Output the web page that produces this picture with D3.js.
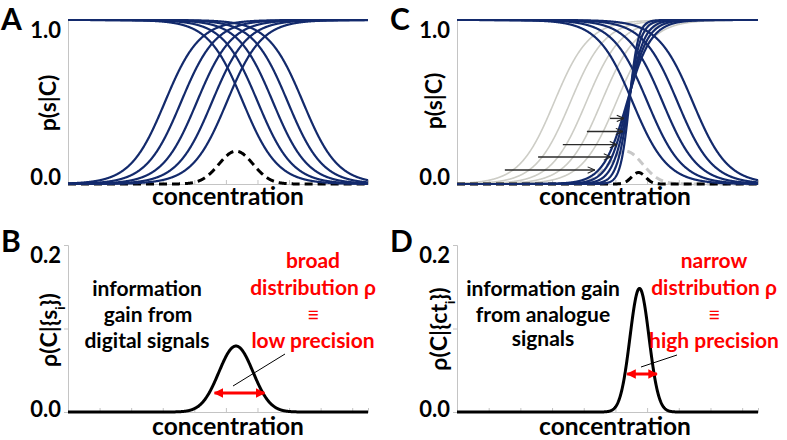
<!DOCTYPE html>
<html><head><meta charset="utf-8">
<script src="https://cdn.jsdelivr.net/npm/d3@7"></script>
<style>
html,body{margin:0;padding:0;background:#fff;}
svg{display:block;font-family:Lato,"Open Sans",sans-serif;}
</style></head>
<body>
<svg id="chart" width="787" height="440"></svg>
<script>
// ---------------- data ----------------
const xDomain = [0, 9.5];              // concentration axis (arbitrary units)
const xTickValues = [1,2,3,4,5,6,7,8,9];
const yTicksTop = [0, 1];
const yTicksBottom = [0, 0.1, 0.2];
const yTickLabelsBottom = [0, 0.2];

// panel A / C : response curves p(s|C)
const risingMid   = [3.07, 3.58, 4.08, 4.56, 5.03];   // digital, rising
const risingWidth = [0.55, 0.55, 0.55, 0.55, 0.55];
const fallingMid   = [5.54, 6.01, 6.49, 6.96, 7.44];
const fallingWidth = [0.55, 0.55, 0.55, 0.55, 0.55];
const steepMid   = [5.37, 5.39, 5.41, 5.42, 5.44];    // analogue, steep rising
const steepWidth = [0.38, 0.31, 0.25, 0.19, 0.14];
// dashed posteriors on p-scale
const dashA  = {mean: 5.32, sd: 0.54, peak: 0.20};
const dashC  = {mean: 5.73, sd: 0.22, peak: 0.07};
// arrows in C (level, start, end in concentration units)
const arrowLevel = [0.085, 0.165, 0.24, 0.32, 0.40];
const arrowStart = [1.51, 2.56, 3.34, 4.10, 4.83];
const arrowEnd   = [4.35, 4.86, 5.05, 5.24, 5.27];
// panel B / D posteriors
const postB = {mean: 5.32, sd: 0.54, peak: 0.079};
const postD = {mean: 5.76, sd: 0.30, peak: 0.148};
const widthArrowB = [4.64, 6.22];   // red double arrow extent
const widthArrowD = [5.37, 6.31];
const widthLevelB = 0.0228, widthLevelD = 0.0455;

// ---------------- helpers ----------------
const logistic = (x, m, s) => 1 / (1 + Math.exp(-(x - m) / s));
const gauss = (x, g) => g.peak * Math.exp(-0.5 * Math.pow((x - g.mean) / g.sd, 2));
const grid = d3.range(xDomain[0], xDomain[1] + 1e-9, 0.01);

const NAVY = "#132a6c", GRAYC = "#cdcdc6", AXIS = "#c4c4c4", RED = "#ff0000";
const svg = d3.select("#chart");
const defs = svg.append("defs");
defs.append("marker").attr("id","redhead").attr("viewBox","0 0 10 10").attr("refX",9).attr("refY",5)
  .attr("markerWidth",3.2).attr("markerHeight",3.2).attr("orient","auto-start-reverse")
  .append("path").attr("d","M0,0 L10,5 L0,10 z").attr("fill",RED);
defs.append("marker").attr("id","openhead").attr("viewBox","0 0 10 10").attr("refX",10).attr("refY",5)
  .attr("markerWidth",8).attr("markerHeight",8).attr("markerUnits","userSpaceOnUse").attr("orient","auto")
  .append("path").attr("d","M1,1 L10,5 L1,9").attr("fill","none").attr("stroke","#222").attr("stroke-width",1.3);

const panels = {
  A: {x0: 68,  x1: 368, yTop: 20,  yBot: 184, ymax: 1},
  C: {x0: 457, x1: 758, yTop: 20,  yBot: 184, ymax: 1},
  B: {x0: 68,  x1: 368, yTop: 245, yBot: 412, ymax: 0.2},
  D: {x0: 457, x1: 758, yTop: 245, yBot: 412, ymax: 0.2}
};
for (const k in panels) {
  const p = panels[k];
  p.x = d3.scaleLinear().domain(xDomain).range([p.x0, p.x1]);
  p.y = d3.scaleLinear().domain([0, p.ymax]).range([p.yBot, p.yTop]);
  p.line = d3.line().x(d => p.x(d[0])).y(d => p.y(d[1])).curve(d3.curveLinear);
}

function axes(p, top) {
  const g = svg.append("g");
  const xa = g.append("g").attr("transform", `translate(0,${p.yBot})`)
    .call(d3.axisBottom(p.x).tickValues(xTickValues).tickSize(-4).tickFormat(""));
  xa.selectAll("line,path").attr("stroke", AXIS);
  const ya = g.append("g").attr("transform", `translate(${p.x0},0)`)
    .call(d3.axisLeft(p.y).tickValues(top ? yTicksTop : yTicksBottom).tickSize(top ? 0 : 4).tickFormat(""));
  ya.selectAll("line,path").attr("stroke", AXIS);
  const labs = top ? yTicksTop : yTickLabelsBottom;
  g.selectAll("text.tl").data(labs).enter().append("text")
    .attr("x", p.x0 - 7)
    .attr("y", d => p.y(d) + (d === 0 ? (top ? -7 : -3) : 10))
    .attr("dy", "0.35em").attr("text-anchor","end")
    .attr("font-size", 22).attr("font-weight", 700).attr("fill","#000")
    .text(d => d3.format(".1f")(d));
}

function curve(p, fn, color, w, dash) {
  svg.append("path").datum(grid.map(x => [x, fn(x)]))
    .attr("d", p.line).attr("fill","none").attr("stroke",color).attr("stroke-width",w)
    .attr("stroke-dasharray", dash || null).attr("stroke-linejoin","round");
}

// ---------------- Panel A ----------------
const A = panels.A;
axes(A, true);
curve(A, x => gauss(x, dashA), "#000", 3, "8,5");
risingMid.forEach((m,i) => curve(A, x => logistic(x, m, risingWidth[i]), NAVY, 2.2));
fallingMid.forEach((m,i) => curve(A, x => 1 - logistic(x, m, fallingWidth[i]), NAVY, 2.2));

// ---------------- Panel C ----------------
const C = panels.C;
axes(C, true);
risingMid.forEach((m,i) => curve(C, x => logistic(x, m, risingWidth[i]), GRAYC, 1.6));
curve(C, x => gauss(x, dashA), "#c8c8c8", 3, "8,5");
curve(C, x => gauss(x, dashC), "#000", 3, "8,5");
steepMid.forEach((m,i) => curve(C, x => logistic(x, m, steepWidth[i]), NAVY, 2.2));
fallingMid.forEach((m,i) => curve(C, x => 1 - logistic(x, m, fallingWidth[i]), NAVY, 2.2));
svg.append("g").selectAll("line").data(arrowLevel).enter().append("line")
  .attr("x1", (d,i) => C.x(arrowStart[i])).attr("x2", (d,i) => C.x(arrowEnd[i]))
  .attr("y1", d => C.y(d)).attr("y2", d => C.y(d))
  .attr("stroke","#2a2a2a").attr("stroke-width",1.4).attr("marker-end","url(#openhead)");

// ---------------- Panel B / D ----------------
function postPanel(p, g, wa, lvl) {
  axes(p, false);
  curve(p, x => gauss(x, g), "#000", 3);
  svg.append("line").attr("x1", p.x(wa[0])).attr("x2", p.x(wa[1]))
    .attr("y1", p.y(lvl)).attr("y2", p.y(lvl))
    .attr("stroke", RED).attr("stroke-width", 3)
    .attr("marker-start","url(#redhead)").attr("marker-end","url(#redhead)");
}
const B = panels.B, D = panels.D;
postPanel(B, postB, widthArrowB, widthLevelB);
postPanel(D, postD, widthArrowD, widthLevelD);
svg.append("line").attr("x1",233).attr("y1",386).attr("x2",285).attr("y2",354).attr("stroke","#000").attr("stroke-width",1);
svg.append("line").attr("x1",641).attr("y1",367).attr("x2",677).attr("y2",355).attr("stroke","#000").attr("stroke-width",1);

// ---------------- Texts ----------------
function txt(x, y, s, o) {
  o = o || {};
  return svg.append("text").attr("x", x).attr("y", y).attr("text-anchor", o.anchor || "middle")
    .attr("font-size", o.size || 21).attr("font-weight", o.weight || 700)
    .attr("fill", o.fill || "#000").text(s);
}
txt(1, 30, "A", {anchor:"start", size:30});
txt(390, 30, "C", {anchor:"start", size:30});
txt(1, 252, "B", {anchor:"start", size:30});
txt(390, 252, "D", {anchor:"start", size:30});
[[228,205],[615,205],[228,435],[615,435]].forEach(d => txt(d[0], d[1], "concentration", {size:24.5}));
function ylab(x, y, parts) {
  const t = svg.append("text").attr("transform", `translate(${x},${y}) rotate(-90)`)
    .attr("text-anchor","middle").attr("font-size",23).attr("font-weight",700).attr("fill","#000");
  parts.forEach(pt => {
    const s = t.append("tspan").text(pt.t);
    if (pt.sub) s.attr("font-size",13).attr("baseline-shift","sub");
  });
}
ylab(56, 103, [{t:"p(s|C)"}]);
ylab(442, 101, [{t:"p(s|C)"}]);
ylab(57, 330, [{t:"ρ(C|{s"},{t:"i",sub:true},{t:"})"}]);
ylab(447, 329, [{t:"ρ(C|{ct"},{t:"i",sub:true},{t:"})"}]);
txt(147, 296, "information");
txt(148, 322, "gain from");
txt(147, 348, "digital signals");
txt(313, 268, "broad", {fill:RED});
txt(313, 295, "distribution ρ", {fill:RED});
txt(313, 322, "≡", {fill:RED, weight:400});
txt(313, 348, "low precision", {fill:RED});
txt(543, 296, "information gain");
txt(543, 322, "from analogue");
txt(543, 346, "signals");
txt(714, 268, "narrow", {fill:RED});
txt(714, 295, "distribution ρ", {fill:RED});
txt(714, 322, "≡", {fill:RED, weight:400});
txt(714, 348, "high precision", {fill:RED});
</script>
</body></html>
